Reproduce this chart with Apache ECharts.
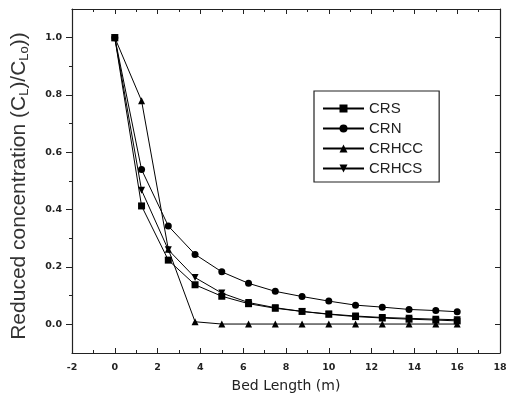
<!DOCTYPE html>
<html>
<head>
<meta charset="utf-8">
<script src="https://cdn.jsdelivr.net/npm/echarts@6/dist/echarts.min.js"></script>
<style>
    html, body { margin: 0; padding: 0; background: #fff; }
    #chart { width: 507px; height: 405px; }
</style>
</head>
<body>
<div id="chart"></div>
<script>
// bed length (m)
var bedLength = [0, 1.25, 2.5, 3.75, 5, 6.25, 7.5, 8.75, 10, 11.25, 12.5, 13.75, 15, 16];
// reduced concentration per sorbent
var crs   = [1.0, 0.413, 0.224, 0.138, 0.098, 0.072, 0.056, 0.045, 0.035, 0.027, 0.022, 0.018, 0.015, 0.012];
var crn   = [1.0, 0.540, 0.343, 0.244, 0.183, 0.143, 0.115, 0.097, 0.081, 0.067, 0.060, 0.052, 0.048, 0.044];
var crhcc = [1.0, 0.780, 0.262, 0.009, 0.001, 0.001, 0.001, 0.001, 0.001, 0.001, 0.001, 0.001, 0.001, 0.001];
var crhcs = [1.0, 0.468, 0.260, 0.163, 0.109, 0.076, 0.058, 0.045, 0.036, 0.029, 0.024, 0.021, 0.018, 0.016];
var seriesNames = ['CRS', 'CRN', 'CRHCC', 'CRHCS'];
// y ticks
var yMajor = [0, 0.2, 0.4, 0.6, 0.8, 1.0];
var yMinor = [0.1, 0.3, 0.5, 0.7, 0.9];

(function() {
    var chart = echarts.init(document.getElementById('chart'));

    var pair = function(ys) {
        var out = [];
        for (var i = 0; i < bedLength.length; i++) {
            out.push([bedLength[i], ys[i]]);
        }
        return out;
    };

    var axisLine = { show: true, onZero: false, lineStyle: { color: '#222', width: 1.2 } };
    var tickLabel = { color: '#222', fontSize: 9.5, fontWeight: 'bold', fontFamily: 'DejaVu Sans' };

    var mkSeries = function(name, ys, symbol, rotate) {
        return {
            name: name,
            type: 'line',
            xAxisIndex: 0,
            yAxisIndex: 0,
            data: pair(ys),
            symbol: symbol,
            symbolSize: 7,
            symbolRotate: rotate || 0,
            itemStyle: { color: '#000' },
            lineStyle: { color: '#000', width: 1 },
            emphasis: { disabled: true },
            animation: false
        };
    };

    var option = {
        animation: false,
        grid: { left: 72, right: 7, top: 9, bottom: 52, outerBoundsMode: 'none' },
        legend: {
            orient: 'vertical',
            left: 314,
            top: 91,
            padding: [10, 16, 6, 8],
            borderColor: '#222',
            borderWidth: 1.2,
            itemWidth: 41,
            itemHeight: 10,
            itemGap: 5,
            textStyle: { color: '#222', fontSize: 15, fontFamily: 'Liberation Sans' },
            data: seriesNames
        },
        xAxis: [{
            type: 'value',
            position: 'bottom',
            min: -2,
            max: 18,
            interval: 2,
            axisLine: axisLine,
            axisTick: { inside: true, length: 5, lineStyle: { color: '#222' } },
            minorTick: { show: true, splitNumber: 2, length: 3, lineStyle: { color: '#222' } },
            splitLine: { show: false },
            axisLabel: Object.assign({ margin: 10 }, tickLabel),
            name: 'Bed Length (m)',
            nameLocation: 'middle',
            nameGap: 26,
            nameTextStyle: { color: '#222', fontSize: 14, fontFamily: 'DejaVu Sans' }
        }, {
            type: 'value',
            position: 'top',
            min: -2,
            max: 18,
            interval: 2,
            axisLine: axisLine,
            axisTick: { inside: true, length: 5, lineStyle: { color: '#222' } },
            minorTick: { show: true, splitNumber: 2, length: 3, lineStyle: { color: '#222' } },
            splitLine: { show: false },
            axisLabel: { show: false }
        }],
        yAxis: [{
            type: 'value',
            position: 'left',
            min: -0.1,
            max: 1.1,
            axisLine: axisLine,
            axisTick: { customValues: yMajor, length: 6, lineStyle: { color: '#222' } },
            splitLine: { show: false },
            axisLabel: Object.assign({
                customValues: yMajor,
                margin: 10,
                formatter: function(v) { return v.toFixed(1); }
            }, tickLabel),
            name: 'Reduced concentration (C{sub|L})/C{sub|Lo}))',
            nameLocation: 'middle',
            nameRotate: 90,
            nameGap: 40,
            nameTextStyle: {
                color: '#333',
                fontSize: 21,
                lineHeight: 26,
                fontFamily: 'Liberation Sans',
                padding: [0, 10, 0, 0],
                rich: {
                    sub: { fontSize: 13, color: '#333', fontFamily: 'Liberation Sans', padding: [10, 0, 0, 0] }
                }
            }
        }, {
            type: 'value',
            position: 'left',
            min: -0.1,
            max: 1.1,
            axisLine: { show: false, onZero: false },
            axisTick: { customValues: yMinor, length: 3, lineStyle: { color: '#222' } },
            splitLine: { show: false },
            axisLabel: { show: false }
        }, {
            type: 'value',
            position: 'right',
            min: -0.1,
            max: 1.1,
            axisLine: axisLine,
            axisTick: { inside: true, customValues: yMajor, length: 5, lineStyle: { color: '#222' } },
            splitLine: { show: false },
            axisLabel: { show: false }
        }],
        series: [
            mkSeries('CRS', crs, 'rect'),
            mkSeries('CRN', crn, 'circle'),
            mkSeries('CRHCC', crhcc, 'triangle'),
            mkSeries('CRHCS', crhcs, 'triangle', 180)
        ]
    };

    chart.setOption(option);
})();
</script>
</body>
</html>
